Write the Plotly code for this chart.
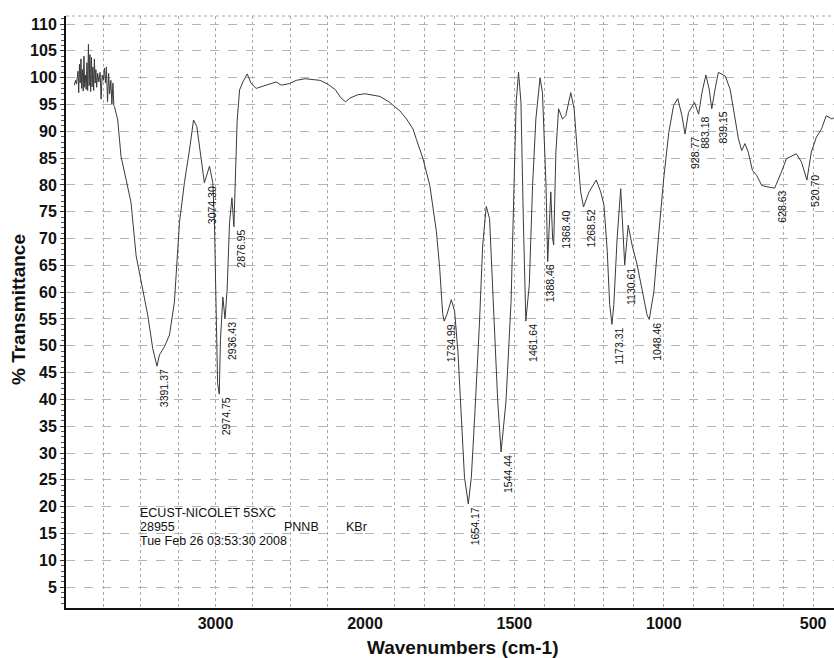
import numpy as np
import plotly.graph_objects as go

# FT-IR spectrum of PNNB (KBr pellet); the chart expands the scale below 2000 cm-1
wavenumber_high = [
    3944, 3936, 3930, 3925, 3920, 3915, 3910, 3905, 3900, 3895, 3890, 3885, 3880,
    3875, 3870, 3865, 3860, 3855, 3850, 3845, 3840, 3835, 3830, 3825, 3820, 3815,
    3810, 3805, 3800, 3795, 3788, 3780, 3772, 3765, 3758, 3750, 3743, 3736, 3730,
    3722, 3715, 3708, 3700, 3693, 3686, 3680, 3676, 3654, 3632, 3598, 3565, 3531,
    3498, 3453, 3420, 3391.37, 3375, 3342, 3308, 3275, 3241, 3208, 3174, 3147,
    3125, 3096, 3074.30, 3040, 3018, 3007, 2996, 2986, 2974.75, 2967, 2951,
    2936.43, 2922, 2906, 2890, 2876.95, 2866, 2855, 2839, 2817, 2788, 2761, 2728,
    2661, 2594, 2560, 2504, 2460, 2400, 2300, 2250, 2200, 2160, 2130, 2100, 2050,
    2000,
]
transmittance_high = [
    98.6, 99.5, 98.8, 100.4, 101.2, 97.2, 102.5, 99.0, 103.5, 98.0, 101.5, 97.5, 104.0,
    98.2, 100.5, 97.8, 102.8, 97.6, 106.2, 98.5, 104.3, 97.4, 103.8, 98.3, 102.0, 97.6,
    103.5, 99.0, 101.5, 98.2, 100.8, 99.2, 101.0, 96.0, 100.5, 99.5, 101.8, 99.0, 102.0,
    95.5, 100.8, 97.0, 99.5, 95.0, 99.0, 94.8, 94.6, 92.1, 85.3, 81.0, 76.7, 66.8,
    61.9, 55.7, 49.5, 46.2, 48.3, 49.8, 52.0, 58.1, 73.0, 80.4, 86.5, 92.1,
    90.9, 84.7, 80.4, 83.5, 80.4, 73.0, 54.5, 43.0, 41.0, 51.0, 59.1,
    55.0, 60.6, 73.0, 77.6, 72.2, 82.2, 92.0, 97.7, 99.2, 100.7, 98.9, 98.0,
    98.6, 99.2, 98.6, 98.9, 99.5, 99.8, 99.5, 98.8, 97.8, 96.2, 95.5, 96.2, 96.8,
    97.0,
]

wavenumber_low = [
    2000, 1950, 1920, 1883, 1861, 1839, 1828, 1806, 1783, 1772, 1761, 1750, 1740,
    1734.99, 1726, 1711, 1700, 1689, 1678, 1667, 1654.17, 1644, 1633, 1617, 1606,
    1594, 1583, 1567, 1556, 1544.44, 1528, 1511, 1500, 1494, 1486, 1478, 1470, 1465,
    1461.64, 1450, 1439, 1428, 1414, 1406, 1394, 1388.46, 1383, 1378, 1372, 1368.40,
    1361, 1352, 1339, 1328, 1311, 1300, 1289, 1278, 1268.52, 1250, 1226, 1211, 1200,
    1189, 1181, 1173.31, 1167, 1156, 1144, 1139, 1130.61, 1119, 1106, 1089, 1072,
    1056, 1048.46, 1033, 1017, 1000, 983, 967, 953, 939, 928.77, 917, 897, 883.18,
    872, 859, 848, 839.15, 828, 817, 794, 778, 761, 750, 739, 728, 717, 703, 689,
    672, 650, 628.63, 606, 589, 556, 539, 520.70, 506, 489, 472, 456, 437, 430,
]
transmittance_low = [
    97.0, 96.5, 95.5, 93.8, 92.3, 90.4, 88.5, 84.9, 79.9, 75.6, 71.3, 64.5, 56.0,
    54.6, 55.8, 58.6, 56.4, 49.0, 36.6, 25.5, 20.5, 25.5, 36.6, 54.0, 68.8,
    76.0, 73.7, 55.2, 40.0, 30.2, 39.7, 58.3, 83.0, 95.4, 101.0, 95.4, 73.7, 58.0,
    54.6, 61.4, 79.9, 92.3, 100.0, 97.2, 79.9, 65.7, 72.5, 78.7, 70.0, 68.8,
    86.1, 94.2, 92.3, 92.9, 97.2, 94.2, 86.1, 78.7, 75.9, 78.7, 80.9, 78.7, 76.2,
    67.6, 57.7, 54.0, 57.7, 70.0, 79.3, 73.7, 65.1, 72.5, 68.8, 65.1, 60.1,
    55.8, 54.9, 60.1, 70.7, 81.2, 89.8, 94.8, 96.1, 92.9, 89.5, 93.5, 95.4, 93.2,
    97.2, 100.5, 97.9, 94.2, 97.9, 101.0, 100.3, 97.9, 92.3, 88.6, 86.4, 87.7, 86.1, 82.7, 81.8,
    79.9, 79.6, 79.4, 82.4, 84.9, 85.8, 84.3, 80.9, 86.1, 88.9, 90.4, 92.9, 92.3, 92.5,
]

peak_labels = [
    "3391.37", "3074.30", "2974.75", "2936.43", "2876.95", "1734.99", "1654.17",
    "1544.44", "1461.64", "1388.46", "1368.40", "1268.52", "1173.31", "1130.61",
    "1048.46", "928.77", "883.18", "839.15", "628.63", "520.70",
]

x_major_high = [3000]
x_minor_high = [3750, 3500, 3250, 2750, 2500, 2250]
x_major_low = [2000, 1500, 1000, 500]
x_minor_low = [1900, 1800, 1700, 1600, 1400, 1300, 1200, 1100, 900, 800, 700, 600]
y_ticks = list(range(5, 111, 5))

header_lines = ["ECUST-NICOLET 5SXC", "28955", "Tue Feb 26 03:53:30 2008"]
header_extra = ["PNNB", "KBr"]

FONT = "Arial, Liberation Sans, Helvetica, sans-serif"
W, H = 834, 658
M_L, M_R, M_T, M_B = 66, 0, 16, 50
PLOT_W = W - M_L - M_R
PLOT_H = H - M_T - M_B
SPLIT = (365 - M_L) / PLOT_W  # 2000 cm-1 sits here in the axis domain
Y_RANGE = [1.1, 111.5]

line_style = dict(color="#3a3a3a", width=1)

fig = go.Figure()
fig.add_trace(go.Scatter(x=wavenumber_high, y=transmittance_high, mode="lines",
                         line=line_style, xaxis="x", yaxis="y",
                         hoverinfo="skip", showlegend=False))
fig.add_trace(go.Scatter(x=wavenumber_low, y=transmittance_low, mode="lines",
                         line=line_style, xaxis="x2", yaxis="y",
                         hoverinfo="skip", showlegend=False))

grid_h = dict(gridcolor="#b5b5b5", griddash="dash", gridwidth=1)
grid_v = dict(gridcolor="#a8a8a8", griddash="dot", gridwidth=1)
tick_font = dict(family=FONT, size=16, color="#111")

common_x = dict(showline=True, linecolor="#111", linewidth=2, zeroline=False,
                tickmode="array", ticks="", tickfont=tick_font, showgrid=True,
                **grid_v)

fig.update_layout(
    width=W, height=H,
    margin=dict(l=M_L, r=M_R, t=M_T, b=M_B, pad=0),
    paper_bgcolor="white", plot_bgcolor="white",
    xaxis=dict(domain=[0, SPLIT], range=[4000, 2000], anchor="y",
               tickvals=x_major_high, ticktext=[str(v) for v in x_major_high],
               minor=dict(tickmode="array", tickvals=x_minor_high, showgrid=True,
                          **grid_v),
               **common_x),
    xaxis2=dict(domain=[SPLIT, 1], range=[2000, 430], anchor="y",
                tickvals=x_major_low, ticktext=[str(v) for v in x_major_low],
                minor=dict(tickmode="array", tickvals=x_minor_low, showgrid=True,
                           **grid_v),
                **common_x),
    yaxis=dict(range=Y_RANGE, tickmode="array", tickvals=y_ticks,
               ticktext=[str(v) for v in y_ticks], tickfont=tick_font,
               showline=True, linecolor="#111", linewidth=2, zeroline=False,
               ticks="outside", ticklen=4, tickcolor="#333",
               minor=dict(dtick=1, tick0=0, ticks="outside", ticklen=3,
                          tickcolor="#555", showgrid=False),
               showgrid=True, **grid_h),
)

# dotted top edge of the frame
fig.add_shape(type="line", xref="paper", yref="paper", x0=0, x1=1, y0=1, y1=1,
              line=dict(color="#a8a8a8", width=1, dash="dot"))

# peak annotations, rotated, hanging below each absorption minimum
wn_all = np.array(wavenumber_high[:-1] + wavenumber_low)
tr_all = np.array(transmittance_high[:-1] + transmittance_low)
order = np.argsort(wn_all)
label_adjust = {"1368.40": (75.7, 12), "520.70": (82.4, 8), "928.77": (None, 10),
                "839.15": (None, 11), "1388.46": (None, 2)}
for lab in peak_labels:
    wv = float(lab)
    yv = float(np.interp(wv, wn_all[order], tr_all[order]))
    xs = 7
    if lab in label_adjust:
        y_override, xs = label_adjust[lab]
        if y_override is not None:
            yv = y_override
    fig.add_annotation(x=wv, y=yv, xref="x" if wv > 2000 else "x2", yref="y",
                       text=lab, textangle=-90, showarrow=False,
                       xanchor="center", yanchor="top", xshift=xs, yshift=-1,
                       font=dict(family=FONT, size=10.5, color="#111"))


def px_x(px):
    return (px - M_L) / PLOT_W


def px_y(py):
    return (H - M_B - py) / PLOT_H


info_font = dict(family=FONT, size=12.5, color="#111")
for text, py in zip(header_lines, [512.7, 527, 540.7]):
    fig.add_annotation(x=px_x(138), y=px_y(py), xref="paper", yref="paper",
                       text=text, showarrow=False, xanchor="left",
                       yanchor="middle", font=info_font)
for text, px in zip(header_extra, [282, 344]):
    fig.add_annotation(x=px_x(px), y=px_y(527), xref="paper", yref="paper",
                       text=text, showarrow=False, xanchor="left",
                       yanchor="middle", font=info_font)

title_font = dict(family=FONT, size=19, color="#111")
fig.add_annotation(x=px_x(462), y=px_y(647), xref="paper", yref="paper",
                   text="<b>Wavenumbers (cm-1)</b>", showarrow=False,
                   xanchor="center", yanchor="middle", font=title_font)
fig.add_annotation(x=px_x(18), y=px_y(310), xref="paper", yref="paper",
                   text="<b>% Transmittance</b>", showarrow=False, textangle=-90,
                   xanchor="center", yanchor="middle", font=title_font)

fig.update_xaxes(tickfont=dict(family=FONT, size=16, color="#111"))
fig.update_layout(font=dict(family=FONT))
# bold tick labels
fig.update_xaxes(ticktext=None)
fig.layout.xaxis.ticktext = [f"<b>{v}</b>" for v in x_major_high]
fig.layout.xaxis2.ticktext = [f"<b>{v}</b>" for v in x_major_low]
fig.layout.yaxis.ticktext = [f"<b>{v}</b>" for v in y_ticks]

fig.write_html("out.html")
